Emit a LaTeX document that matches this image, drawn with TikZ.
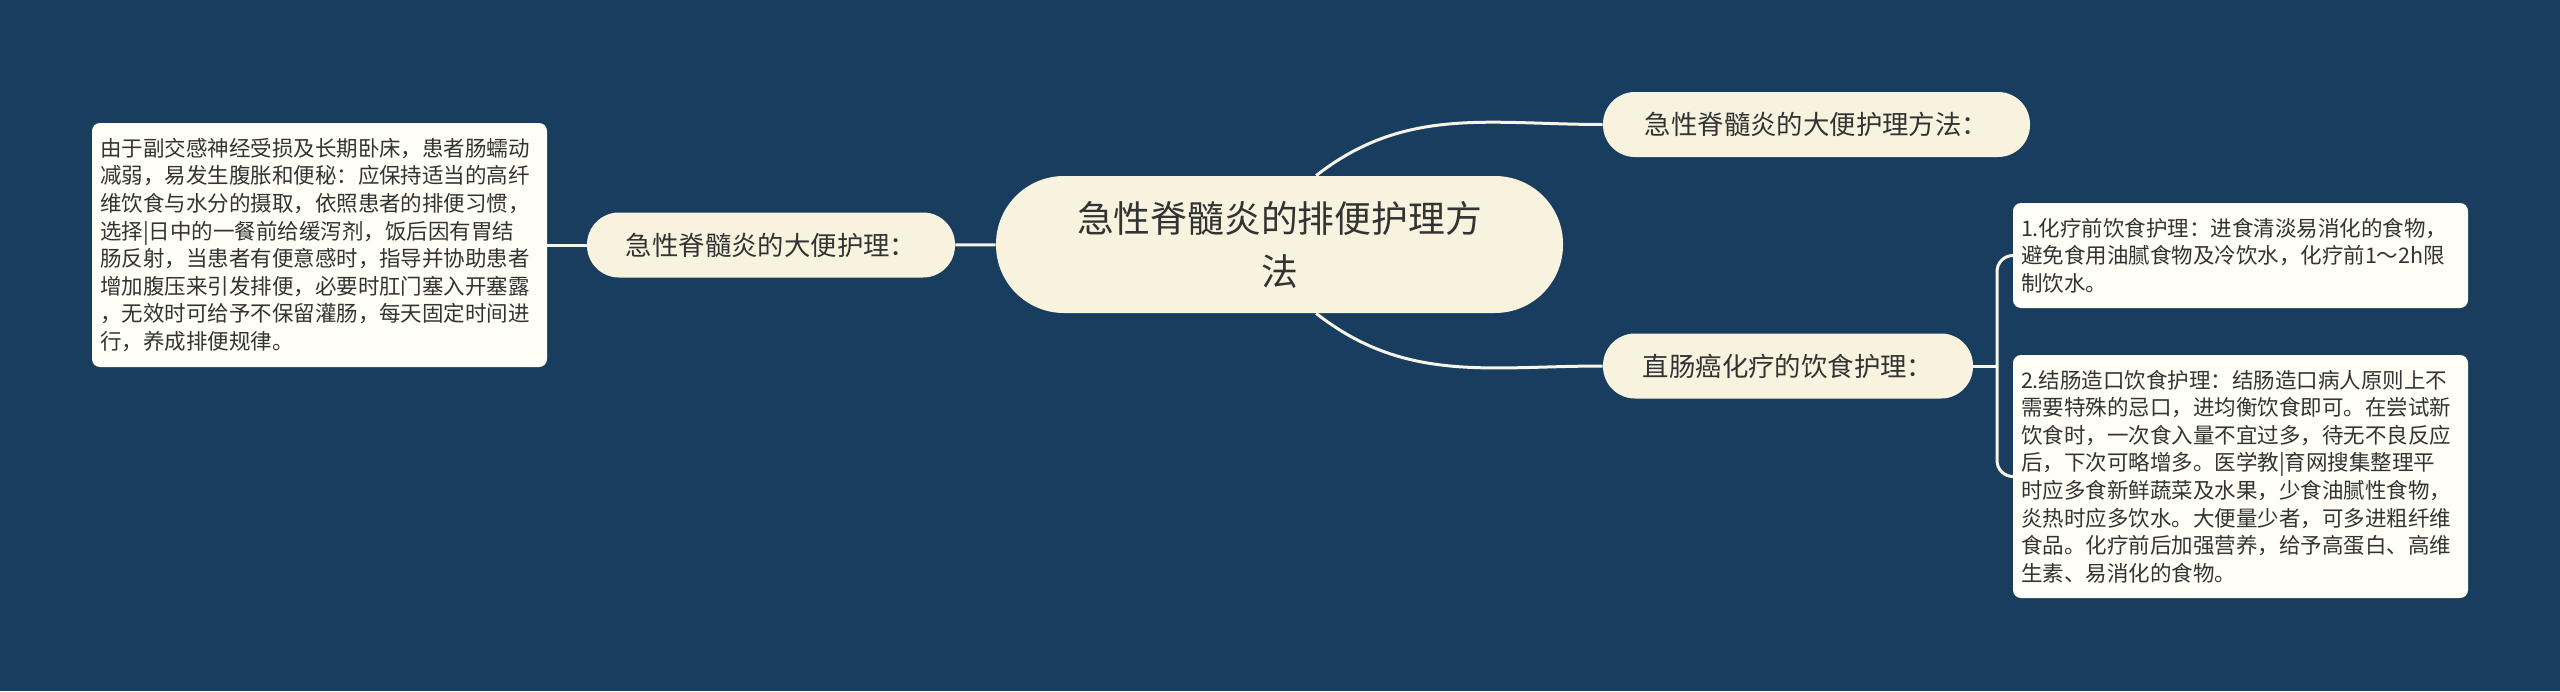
\documentclass[tikz,border=0pt]{standalone}
\usepackage{fontspec}
\setmainfont{Noto Sans CJK SC}
\usepackage{tikz}
\definecolor{bgblue}{HTML}{193D5F}
\definecolor{creamfill}{HTML}{F8F3DF}
\definecolor{leaffill}{HTML}{FFFFF7}
\definecolor{linkcol}{HTML}{F7F4E8}
\definecolor{inkcol}{HTML}{333333}

\begin{document}
\begin{tikzpicture}[x=0.5pt,y=-0.5pt]
		\tikzstyle{root} = [rectangle,fill=creamfill,text=inkcol,rounded corners=34pt,minimum width=283.5pt,minimum height=68.5pt,inner sep=0pt,align=center,font=\fontsize{18.4pt}{26.5pt}\selectfont]
		\tikzstyle{sub}  = [rectangle,fill=creamfill,text=inkcol,rounded corners=16pt,minimum height=32.5pt,inner sep=0pt,font=\fontsize{13.2pt}{16pt}\selectfont]
		\tikzstyle{leaf} = [rectangle,fill=leaffill,text=inkcol,rounded corners=4pt,inner sep=4pt,text width=219.5pt,align=left,font=\fontsize{10.75pt}{13.8pt}\selectfont]
		\tikzstyle{link} = [draw=linkcol,line width=1.5pt]

		\fill[bgblue] (0,0) rectangle (2560,691);
		\useasboundingbox (0,0) rectangle (2560,691);

		\node[root] (root) at (1279.5,244.5) {急性脊髓炎的排便护理方\\法};
		\node[sub,minimum width=184pt] (lsub) at (771,245) {急性脊髓炎的大便护理：};
		\node[leaf,minimum height=122pt] (lleaf) at (319.5,245) {由于副交感神经受损及长期卧床，患者肠蠕动\\减弱，易发生腹胀和便秘：应保持适当的高纤\\维饮食与水分的摄取，依照患者的排便习惯，\\选择|日中的一餐前给缓泻剂，饭后因有胃结\\肠反射，当患者有便意感时，指导并协助患者\\增加腹压来引发排便，必要时肛门塞入开塞露\\，无效时可给予不保留灌肠，每天固定时间进\\行，养成排便规律。};
		\node[sub,minimum width=213.5pt] (tsub) at (1816.5,124.5) {急性脊髓炎的大便护理方法：};
		\node[sub,minimum width=185pt] (bsub) at (1788,366) {直肠癌化疗的饮食护理：};
		\node[leaf,minimum height=52.5pt] (leafa) at (2240.5,255.5) {1.化疗前饮食护理：进食清淡易消化的食物，\\避免食用油腻食物及冷饮水，化疗前1～2h限\\制饮水。};
		\node[leaf,minimum height=121.5pt] (leafb) at (2240.5,476.5) {2.结肠造口饮食护理：结肠造口病人原则上不\\需要特殊的忌口，进均衡饮食即可。在尝试新\\饮食时，一次食入量不宜过多，待无不良反应\\后，下次可略增多。医学教|育网搜集整理平\\时应多食新鲜蔬菜及水果，少食油腻性食物，\\炎热时应多饮水。大便量少者，可多进粗纤维\\食品。化疗前后加强营养，给予高蛋白、高维\\生素、易消化的食物。};
		\coordinate (fork) at (1997,366);

		\path[link] (root) -- (lsub);
		\path[link] (lsub) -- (lleaf);
		\path[link] (root.62) to[out=38,in=180] (tsub.west);
		\path[link] (root.-62) to[out=-38,in=180] (bsub.west);
		\path[link] (bsub.east) -- (fork);
		\path[link,rounded corners=8pt] (fork) |- (leafa.west);
		\path[link,rounded corners=8pt] (fork) |- (leafb.west);
	\end{tikzpicture}
\end{document}
